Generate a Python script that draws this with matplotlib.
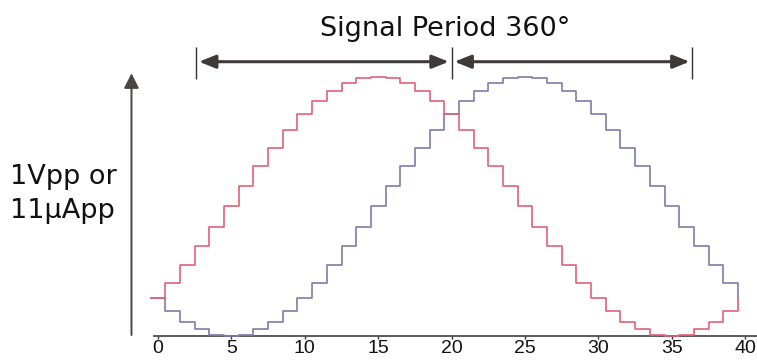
import numpy as np
import matplotlib.pyplot as plt
from matplotlib.patches import FancyArrowPatch

# sample index, one stair step per sample (last one only closes the trace)
samples = list(range(0, 41))

red_signal = [-0.71, -0.59, -0.45, -0.31, -0.16, 0.0, 0.16, 0.31, 0.45, 0.59,
              0.71, 0.81, 0.89, 0.95, 0.99, 1.0, 0.99, 0.95, 0.89, 0.81,
              0.71, 0.59, 0.45, 0.31, 0.16, 0.0, -0.16, -0.31, -0.45, -0.59,
              -0.71, -0.81, -0.89, -0.95, -0.99, -1.0, -0.99, -0.95, -0.89, -0.81,
              -0.71]
blue_signal = [-0.71, -0.81, -0.89, -0.95, -0.99, -1.0, -0.99, -0.95, -0.89, -0.81,
               -0.71, -0.59, -0.45, -0.31, -0.16, 0.0, 0.16, 0.31, 0.45, 0.59,
               0.71, 0.81, 0.89, 0.95, 0.99, 1.0, 0.99, 0.95, 0.89, 0.81,
               0.71, 0.59, 0.45, 0.31, 0.16, 0.0, -0.16, -0.31, -0.45, -0.59,
               -0.71]

xticks = [0, 5, 10, 15, 20, 25, 30, 35, 40]
xtick_labels = ['0', '5', '10', '15', '20', '25', '30', '35', '40']

# ends of the two half-period dimension arrows
period_marks = [2.6, 20.0, 36.4]

title = 'Signal Period 360°'
ylabel_lines = ['1Vpp or', '11µApp']

RED = '#e4607a'
BLUE = '#7d7daa'
DARK = '#3f3a3a'

W, H = 757, 363
fig = plt.figure(figsize=(W / 100, H / 100), dpi=100)
ax = fig.add_axes([0, 0, 1, 1])
ax.set_xlim(-10.76, 40.80)
ax.set_ylim(-1.209, 1.591)


def fig_xy(x, y):
    # pixel position (from top-left) -> figure fraction
    return x / W, 1 - y / H


# stair traces, each level centred on its sample
edges = np.array(samples) - 0.5
ax.step(edges, blue_signal, where='post', color=BLUE, lw=1.2, zorder=3)
ax.step(edges, red_signal, where='post', color=RED, lw=1.2, zorder=4)

# x axis
for side in ['top', 'right', 'left']:
    ax.spines[side].set_visible(False)
ax.spines['bottom'].set_position(('data', -1.0))
ax.spines['bottom'].set_bounds(-0.27, 40.8)
ax.spines['bottom'].set_color('#4d4d4d')
ax.spines['bottom'].set_linewidth(1.3)
ax.set_xticks(xticks, xtick_labels)
ax.set_yticks([])
ax.tick_params(axis='x', direction='out', length=2, width=1, color='#333333',
               pad=1, labelsize=14, labelcolor='#111111')
for lbl in ax.get_xticklabels():
    lbl.set_fontfamily('Liberation Sans')

# vertical arrow on the left
ax.add_patch(FancyArrowPatch((-1.805, -0.993), (-1.805, 1.026),
                             arrowstyle='-|>,head_length=9,head_width=4.5',
                             mutation_scale=1, lw=1.4, color='#4a4444',
                             shrinkA=0, shrinkB=0))

# signal period dimension line
ax.vlines(period_marks, 0.982, 1.229, color='#333333', lw=1.0)
for a, b in zip(period_marks[:-1], period_marks[1:]):
    ax.add_patch(FancyArrowPatch((a, 1.115), (b, 1.115),
                                 arrowstyle='<|-|>,head_length=10,head_width=4',
                                 mutation_scale=1, lw=2.2, color=DARK,
                                 shrinkA=2, shrinkB=2))

fig.text(*fig_xy(445, 35.7), title, ha='center', va='baseline',
         fontsize=19.5, family='DejaVu Sans', color='#111111')
for line, base in zip(ylabel_lines, [184.3, 218.3]):
    fig.text(*fig_xy(10, base), line, ha='left', va='baseline',
             fontsize=19.5, family='DejaVu Sans', color='#111111')

fig.savefig('out.png', dpi=100, facecolor='white')
